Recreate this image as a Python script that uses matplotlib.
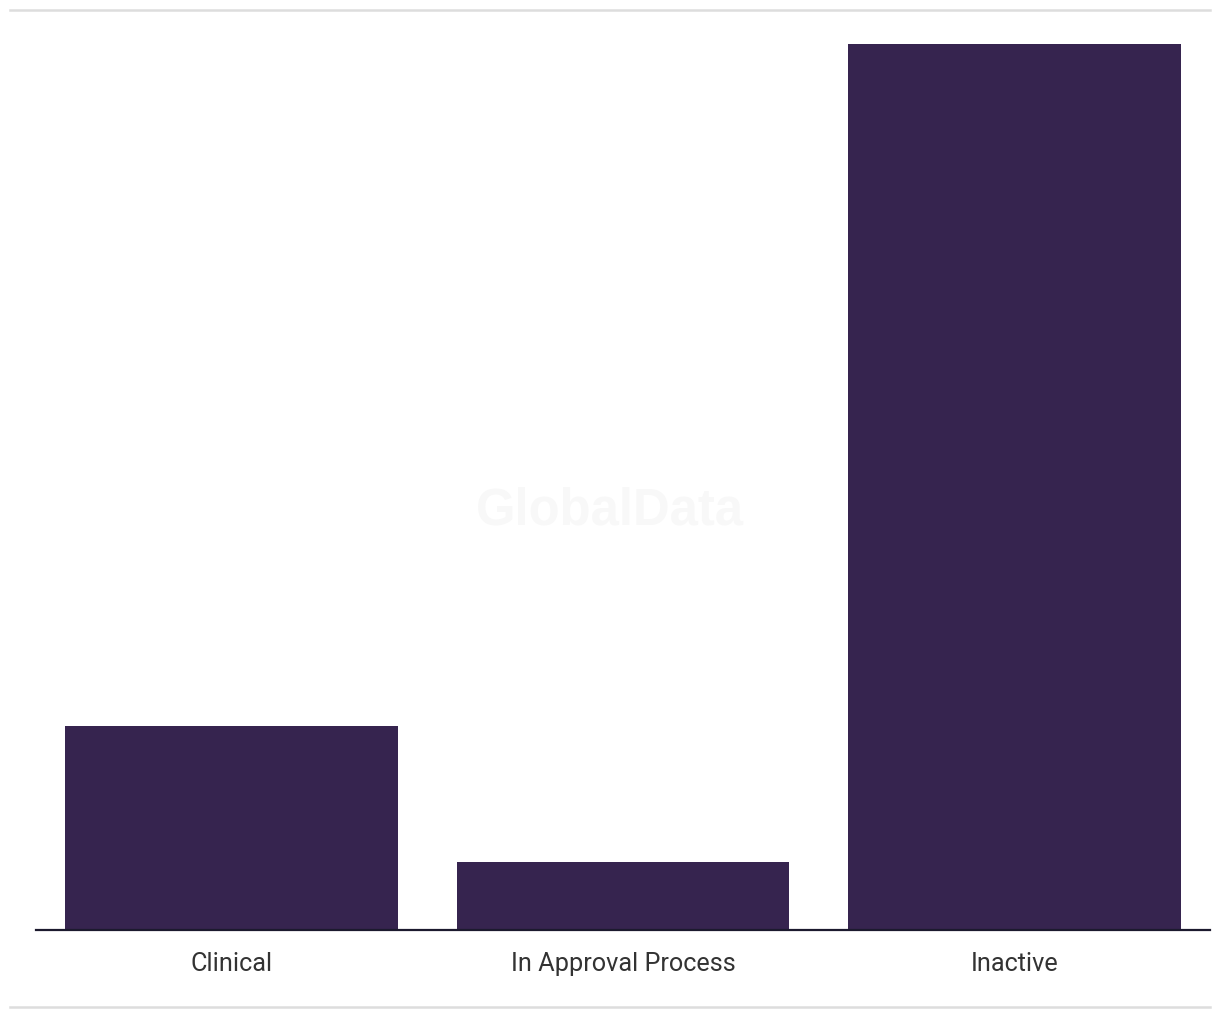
import matplotlib
matplotlib.use("Agg")
import matplotlib.pyplot as plt
from matplotlib.lines import Line2D

# data
categories = ["Clinical", "In Approval Process", "Inactive"]
values = [3, 1, 13]

bar_color = "#36244f"

fig = plt.figure(figsize=(12.2, 10.2), dpi=100)
ax = fig.add_axes([36/1220, (1020-931)/1020, (1210-36)/1220, (931-45)/1020])

ax.bar(range(len(categories)), values, width=0.85, color=bar_color, zorder=2)
ax.set_xlim(-0.5, len(categories) - 0.5)
ax.set_ylim(0, 13)

ax.set_xticks(range(len(categories)))
ax.set_xticklabels(categories, fontsize=18.2, color="#333333", family="Roboto")
ax.tick_params(axis="x", length=0, pad=15)
ax.set_yticks([])
for s in ["top", "right", "left"]:
    ax.spines[s].set_visible(False)
ax.spines["bottom"].set_color("#1c1a2e")
ax.spines["bottom"].set_linewidth(1.6)

# watermark
fig.text(610/1220, 1 - 511/1020, "GlobalData", ha="center", va="center",
         fontsize=36.5, fontweight="bold", color="#f8f8f8", family="Liberation Sans", zorder=0)

# top / bottom rules
for y in [11, 1008]:
    fig.add_artist(Line2D([10/1220, 1210/1220], [1 - y/1020, 1 - y/1020],
                          color="#dddddd", linewidth=1.8, transform=fig.transFigure))

fig.savefig("out.png", dpi=100)
